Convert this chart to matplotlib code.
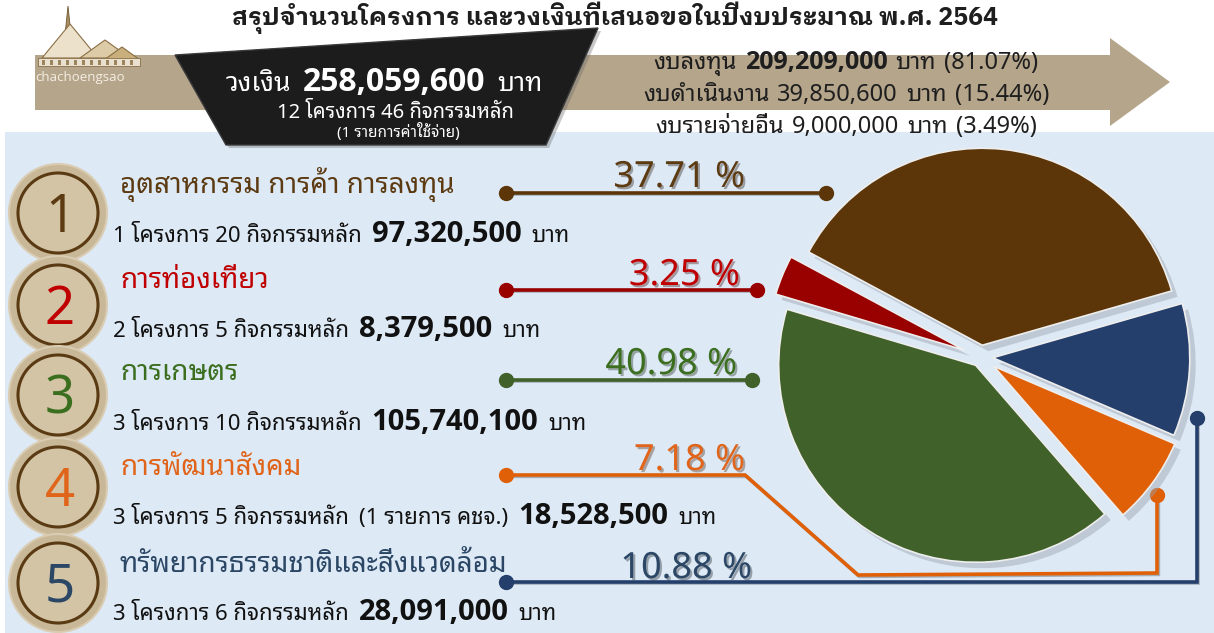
import matplotlib
matplotlib.use("Agg")
import matplotlib.pyplot as plt
from matplotlib.patches import Polygon, Rectangle, Circle
from matplotlib import font_manager as fm
import matplotlib.patheffects as pe

# ---------------- data ----------------
title = "สรุปจำนวนโครงการ และวงเงินที่เสนอขอในปีงบประมาณ พ.ศ. 2564"
sectors = ["อุตสาหกรรม การค้า การลงทุน", "การท่องเที่ยว", "การเกษตร",
           "การพัฒนาสังคม", "ทรัพยากรธรรมชาติและสิ่งแวดล้อม"]
projects = [1, 2, 3, 3, 3]
activities = [20, 5, 10, 5, 6]
notes = ["", "", "", "(1 รายการ คชจ.)", ""]
amounts = [97320500, 8379500, 105740100, 18528500, 28091000]
pct_labels = [37.71, 3.25, 40.98, 7.18, 10.88]
sector_colors = ["#5C3608", "#990000", "#41612A", "#E06008", "#243F6B"]
title_colors = ["#5C3A12", "#C00000", "#3B6E1E", "#E0651A", "#2B4765"]
budget_types = ["งบลงทุน", "งบดำเนินงาน", "งบรายจ่ายอื่น"]
budget_amounts = [209209000, 39850600, 9000000]
budget_pcts = [81.07, 15.44, 3.49]
extra_items = 1


def has_bold(fam):
    for f in fm.fontManager.ttflist:
        if f.name == fam:
            w = f.weight
            if isinstance(w, str):
                if "bold" in w.lower() or w.lower() in ("heavy", "black"):
                    return True
            elif w >= 600:
                return True
    return False


def pick_bold(cands, default):
    for c in cands:
        if has_bold(c):
            return c
    return default


FONT = ["Noto Sans Thai Looped", "Noto Sans", "DejaVu Sans"]
NUMFONT = ["Noto Sans", "DejaVu Sans"]
BOLDNUM = [pick_bold(["Noto Sans", "Open Sans", "Lato", "Roboto",
                      "Liberation Sans"], "DejaVu Sans"), "DejaVu Sans"]
BOLDTHAI = [pick_bold(["Noto Sans Thai Looped", "Noto Sans Thai",
                       "IBM Plex Sans Thai Looped", "IBM Plex Sans Thai",
                       "Sarabun"], "Noto Sans Thai Looped"),
            BOLDNUM[0], "DejaVu Sans"]
plt.rcParams["font.family"] = FONT

W, H = 1214, 633
fig = plt.figure(figsize=(W / 100, H / 100), dpi=100)
ax = fig.add_axes([0, 0, 1, 1])
ax.set_xlim(0, W)
ax.set_ylim(H, 0)
ax.axis("off")
fig.canvas.draw()
R = fig.canvas.get_renderer()


def runs(x, y, parts, ha="left", gap=6, zorder=6):
    """Draw consecutive text runs on one baseline."""
    arts, widths = [], []
    for s, kw in parts:
        t = ax.text(0, y, s, va="baseline", ha="left", zorder=zorder, **kw)
        bb = t.get_window_extent(renderer=R)
        arts.append(t)
        widths.append(bb.width)
    total = sum(widths) + gap * (len(parts) - 1)
    if ha == "center":
        x = x - total / 2
    elif ha == "right":
        x = x - total
    for t, w in zip(arts, widths):
        t.set_x(x)
        x += w + gap
    return arts


def fmt(v):
    return f"{v:,.0f}"

# ---------------- background panel ----------------
ax.add_patch(Rectangle((5, 132), W - 5, H - 132, facecolor="#DDE9F5",
                       edgecolor="none", zorder=0))

# ---------------- arrow band ----------------
band = Polygon([(35, 55), (1110, 55), (1110, 38), (1170, 82), (1110, 126),
                (1110, 110), (35, 110)], closed=True, facecolor="#B5A58B",
               edgecolor="none", zorder=1)
ax.add_patch(band)

# ---------------- logo (simplified temple) ----------------
ax.add_patch(Polygon([(63, 54), (68, 6), (73, 54)], facecolor="#A88E62",
                     edgecolor="#6E5630", lw=0.6, zorder=2))
ax.add_patch(Polygon([(42, 58), (70, 24), (98, 58)], facecolor="#ECE2CC",
                     edgecolor="#8A6E44", lw=0.8, zorder=2))
ax.add_patch(Polygon([(80, 58), (105, 40), (130, 58)], facecolor="#DCCBA6",
                     edgecolor="#8A6E44", lw=0.8, zorder=2))
ax.add_patch(Polygon([(104, 60), (122, 47), (140, 60)], facecolor="#C9AF7C",
                     edgecolor="#8A6E44", lw=0.8, zorder=2))
ax.add_patch(Rectangle((38, 58), 102, 8, facecolor="#E9E0CF",
                       edgecolor="#8A6E44", lw=0.6, zorder=2))
for xx in range(42, 138, 8):
    ax.add_patch(Rectangle((xx, 60), 3, 5, facecolor="#9C845C",
                           edgecolor="none", zorder=2))
ax.text(35, 77, "chachoengsao", fontsize=9.5, color="#F4EEE2",
        va="center", ha="left", zorder=3, family=["Open Sans", "DejaVu Sans"])

# ---------------- title ----------------
ax.text(615, 25, title, fontsize=18, fontweight="bold", color="#1E1E1E",
        ha="center", va="baseline", zorder=6, family=BOLDTHAI)

# ---------------- black trapezoid ----------------
ax.add_patch(Polygon([(178, 58), (601, 31), (549, 148), (229, 148)],
                     facecolor="#666666", edgecolor="none", alpha=0.35,
                     zorder=3))
ax.add_patch(Polygon([(175, 55), (598, 28), (546, 145), (226, 145)],
                     facecolor="#1C1C1C", edgecolor="#3A3A3A", lw=1,
                     zorder=4))
total = sum(amounts)
runs(384, 91, [("วงเงิน", dict(fontsize=19, color="white")),
               (fmt(total), dict(fontsize=23, color="white",
                                 fontweight="bold", family=BOLDNUM)),
               ("บาท", dict(fontsize=19, color="white"))],
     ha="center", gap=12)
ax.text(395, 118, f"{sum(projects)} โครงการ {sum(activities)} กิจกรรมหลัก",
        fontsize=14.5, color="white", ha="center", va="baseline", zorder=6)
ax.text(398, 137, f"({extra_items} รายการค่าใช้จ่าย)", fontsize=11,
        color="white", ha="center", va="baseline", zorder=6)

# ---------------- budget type lines ----------------
for i, (bt, ba, bp) in enumerate(zip(budget_types, budget_amounts, budget_pcts)):
    yb = 69 + i * 32
    runs(846, yb, [(bt, dict(fontsize=17, color="#1E1E1E")),
                   (fmt(ba), dict(fontsize=18 if i == 0 else 17,
                                  color="#1E1E1E",
                                  family=BOLDNUM if i == 0 else NUMFONT,
                                  fontweight="bold" if i == 0 else "normal")),
                   ("บาท", dict(fontsize=17, color="#1E1E1E")),
                   (f"({bp:.2f}%)", dict(fontsize=17, color="#1E1E1E",
                                         family=NUMFONT))],
         ha="center", gap=8)

# ---------------- left numbered items ----------------
circle_y = [213, 305, 395, 487, 583]
title_y = [193, 288, 380, 475, 572]
sub_y = [242, 337, 430, 524, 620]
for i in range(5):
    cy = circle_y[i]
    ax.add_patch(Circle((58, cy), 49, facecolor="#C8B898", edgecolor="#D9CCB2",
                        lw=1.5, zorder=2 + i * 0.01))
    ax.add_patch(Circle((58, cy), 40, facecolor="#D3C4A6", edgecolor="#5A3A12",
                        lw=2.2, zorder=2.005 + i * 0.01))
    ax.text(60, cy + 5, str(i + 1), fontsize=38, color=title_colors[i],
            ha="center", va="center", zorder=3, family=NUMFONT)
    ax.text(120, title_y[i], sectors[i], fontsize=20, color=title_colors[i],
            ha="left", va="baseline", zorder=6)
    parts = [(f"{projects[i]} โครงการ {activities[i]} กิจกรรมหลัก",
              dict(fontsize=16, color="#111111"))]
    if notes[i]:
        parts.append((notes[i], dict(fontsize=16, color="#111111")))
    parts.append((fmt(amounts[i]), dict(fontsize=21, color="#111111",
                                        fontweight="bold", family=BOLDNUM)))
    parts.append(("บาท", dict(fontsize=16, color="#111111")))
    runs(113, sub_y[i], parts, gap=10)

# ---------------- connector lines ----------------
lw = 2.6
shadow = [pe.SimpleLineShadow(offset=(1, -1), alpha=0.25), pe.Normal()]
conn = [
    [(506, 193), (826, 193)],
    [(506, 290), (757, 290)],
    [(506, 380), (752, 380)],
    [(506, 475), (745, 475), (858, 575), (1157, 573), (1157, 495)],
    [(506, 582), (1197, 582), (1197, 418)],
]
for i, pts in enumerate(conn):
    xs = [p[0] for p in pts]
    ys = [p[1] for p in pts]
    ax.plot(xs, ys, color=sector_colors[i], lw=lw, zorder=5,
            solid_joinstyle="miter", path_effects=shadow)
    ax.plot([xs[0], xs[-1]], [ys[0], ys[-1]], "o", color=sector_colors[i],
            ms=10, zorder=5)

pct_pos = [(745, 187), (740, 285), (737, 374), (745, 470), (752, 578)]
for i, (px, py) in enumerate(pct_pos):
    ax.text(px, py, f"{pct_labels[i]:.2f} %", fontsize=26,
            color=title_colors[i], ha="right", va="baseline", zorder=6,
            family=NUMFONT,
            path_effects=[pe.SimplePatchShadow(offset=(1.5, -1.5), alpha=0.35),
                          pe.Normal()])

# ---------------- pie ----------------
cx, cy = 981, 357
rx, ry = 197, 208
lim = 1.3
pw, ph = 2 * lim * rx, 2 * lim * ry
pax = fig.add_axes([(cx - pw / 2) / W, (H - cy - ph / 2) / H, pw / W, ph / H])
pax.set_xlim(-lim, lim)
pax.set_ylim(-lim, lim)
pax.set_aspect("auto")
pax.axis("off")
explode = [0.06, 0.09, 0.05, 0.08, 0.06]
# soft shadow
pax.pie(amounts, startangle=16, counterclock=True, explode=explode,
        colors=["#9AA4AE"] * 5, center=(0.03, -0.03),
        wedgeprops=dict(edgecolor="none", alpha=0.45))
pax.pie(amounts, startangle=16, counterclock=True, explode=explode,
        colors=sector_colors,
        wedgeprops=dict(edgecolor="#EEEEEE", linewidth=1.2))
pax.set_xlim(-lim, lim)
pax.set_ylim(-lim, lim)

fig.savefig("out.png", dpi=100)
